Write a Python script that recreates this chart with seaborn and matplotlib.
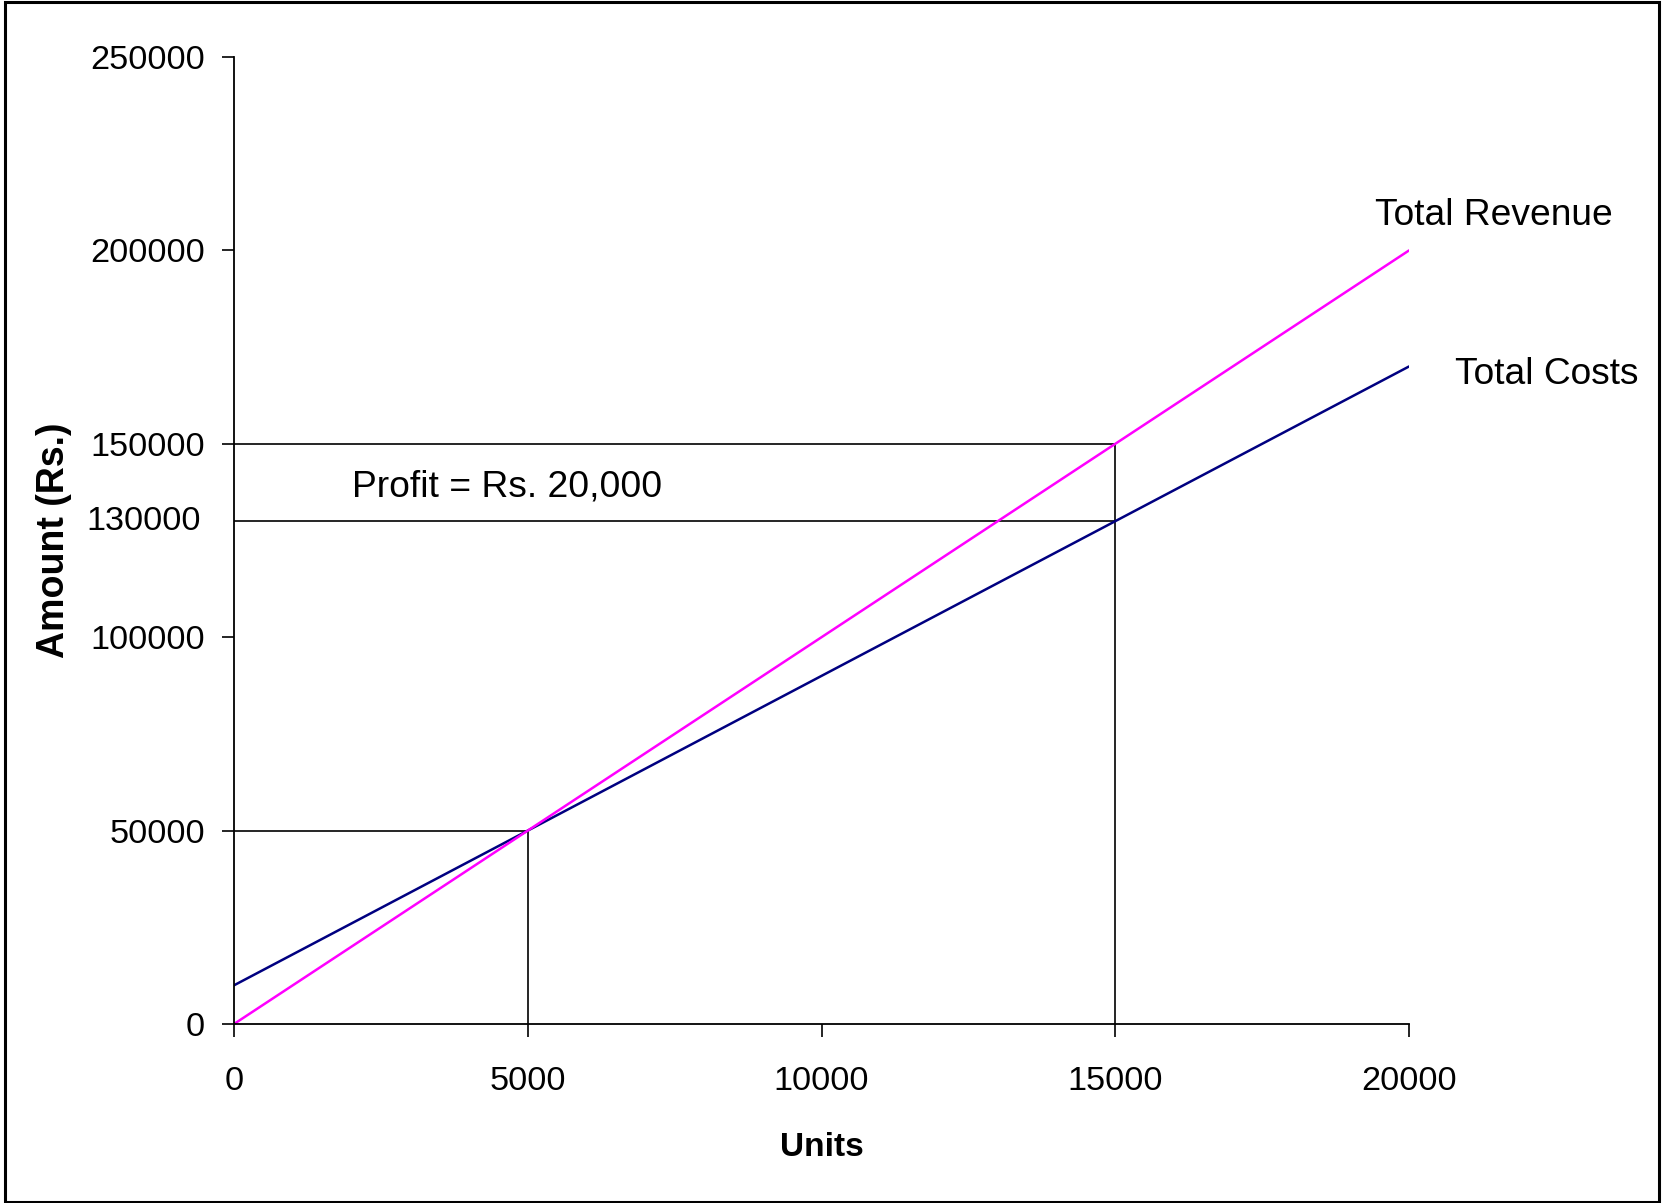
import matplotlib
matplotlib.use("Agg")
import matplotlib.pyplot as plt
import matplotlib.transforms as mtransforms
from matplotlib.patches import Rectangle
import seaborn as sns
import pandas as pd

# Data
units = [0, 5000, 10000, 15000, 20000]
total_revenue = [0, 50000, 100000, 150000, 200000]
total_costs = [10000, 50000, 90000, 130000, 170000]
y_ticks = [0, 50000, 100000, 150000, 200000, 250000]
x_ticks = [0, 5000, 10000, 15000, 20000]
break_even_units = 5000
break_even_amount = 50000
target_units = 15000
target_revenue = 150000
target_cost = 130000
profit_text = "Profit = Rs. 20,000"

sns.set_theme(style="white")
plt.rcParams['font.family'] = ['Liberation Sans', 'DejaVu Sans']

df = pd.DataFrame({"Units": units, "Revenue": total_revenue, "Costs": total_costs})

fig = plt.figure(figsize=(16.62, 12.03), dpi=100)
ax = fig.add_axes([0.1408, 0.1488, 0.8478 - 0.1408, 0.9526 - 0.1488])

# reference lines
lw_ref = 1.2
ax.plot([0, target_units], [target_revenue, target_revenue], color="black", lw=lw_ref)
ax.plot([0, target_units], [target_cost, target_cost], color="black", lw=lw_ref)
ax.plot([target_units, target_units], [0, target_revenue], color="black", lw=lw_ref)
ax.plot([0, break_even_units], [break_even_amount, break_even_amount], color="black", lw=lw_ref)
ax.plot([break_even_units, break_even_units], [0, break_even_amount], color="black", lw=lw_ref)

sns.lineplot(data=df, x="Units", y="Costs", color="#000080", lw=1.8, ax=ax)
sns.lineplot(data=df, x="Units", y="Revenue", color="#FF00FF", lw=1.8, ax=ax)

ax.set_xlim(0, 20000)
ax.set_ylim(0, 250000)
ax.set_xticks(x_ticks)
ax.set_yticks(y_ticks)
ax.set_xticklabels([str(v) for v in x_ticks])
ax.set_yticklabels([str(v) for v in y_ticks])
ax.tick_params(axis="both", labelsize=24.7, length=9, width=1.2, color="black",
               direction="out", labelcolor="black")
ax.tick_params(axis="y", pad=12, left=True)
ax.tick_params(axis="x", pad=21, bottom=True)

for s in ["top", "right"]:
    ax.spines[s].set_visible(False)
for s in ["left", "bottom"]:
    ax.spines[s].set_color("black")
    ax.spines[s].set_linewidth(1.3)

ax.set_xlabel("Units", fontsize=24, fontweight="bold", color="black")
ax.set_ylabel("Amount (Rs.)", fontsize=27, fontweight="bold", color="black")
ax.xaxis.set_label_coords(0.5, -0.112)
ax.yaxis.set_label_coords(-0.138, 0.5)

trans = mtransforms.blended_transform_factory(ax.transAxes, ax.transData)
ax.text(-0.028, target_cost, str(target_cost), transform=trans, ha="right",
        va="center", fontsize=24.7, color="black")

ax.text(2000, 138800, profit_text, fontsize=26.8, ha="left", va="center", color="black")
ax.text(19421, 209150, "Total Revenue", fontsize=26.7, ha="left", va="center",
        color="black", clip_on=False)
ax.text(20783, 168040, "Total Costs", fontsize=26.7, ha="left", va="center",
        color="black", clip_on=False)

fig.patches.append(Rectangle((0.003, 0.001), 0.995, 0.997, transform=fig.transFigure,
                             fill=False, edgecolor="black", lw=2.2))

fig.savefig("out.png", dpi=100, facecolor="white")
